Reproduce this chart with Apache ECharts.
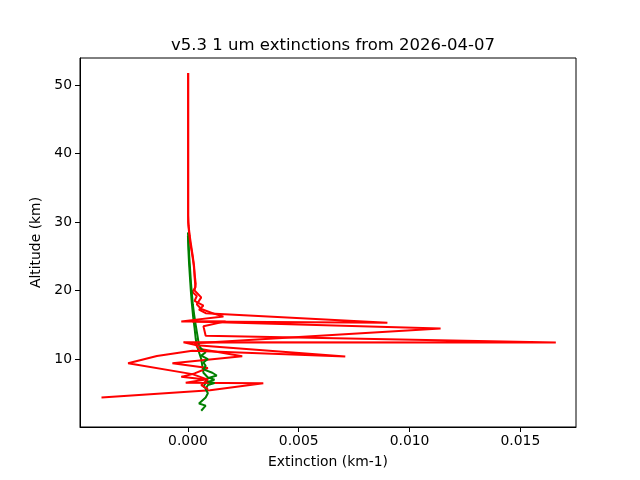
<!DOCTYPE html>
<html>
<head>
<meta charset="utf-8">
<script src="https://cdn.jsdelivr.net/npm/echarts@6/dist/echarts.min.js"></script>
<style>html,body{margin:0;padding:0;background:#fff}#c{width:640px;height:480px}</style>
</head>
<body>
<div id="c"></div>
<script>
var titleText = 'v5.3 1 um extinctions from 2026-04-07';
var xTicks = [0, 0.005, 0.010, 0.015];
var yTicks = [10, 20, 30, 40, 50];

// [extinction (km-1), altitude (km)]
var redA = [[0.00001,51.75],[0.00001,40],[0.00001,31],[0.00003,29.5],[0.00008,28],[0.00015,26.5],[0.00022,25],[0.00028,23.5],[0.0003,22],[0.00034,20.5],[0.0002,19.8],[0.0004,19.2],[0.0003,18.5],[0.0007,17.8],[0.0005,17.2],[0.0008,16.7],[0.009,15.3],[0.0002,15.5],[0.0114,14.47],[0.0003,12.3],[0.0005,11.5],[0.00245,10.4],[-0.0007,9.4],[0.0009,8.7],[0.0003,7.9],[-0.0003,7.4],[0.0008,7.0],[-0.0001,6.55],[0.0034,6.45],[0.001,5.45],[-0.0039,4.4]];
var redB = [[0.00001,51.75],[0.00001,30],[0.00005,28.5],[0.0001,27],[0.00018,25.5],[0.00025,24],[0.0003,22.5],[0.00035,21],[0.0003,20],[0.0006,19],[0.0004,18],[0.0006,17.3],[0.0012,16.6],[0.0016,16.2],[-0.0003,15.5],[0.0017,15.5],[0.0007,14.8],[0.0008,13.4],[0.0166,12.42],[-0.0002,12.45],[0.0004,12.0],[0.0071,10.37],[0.0002,11.2],[-0.0014,10.45],[-0.0027,9.4],[0.0002,7.8],[0.0009,7.0],[0.0006,6.2],[0.0009,5.6]];
var greenA = [[0,28.5],[0.00003,27],[0.00006,25],[0.0001,23],[0.00014,21],[0.00018,19.5],[0.00022,18],[0.00028,16.5],[0.00035,15],[0.0004,14],[0.00045,13],[0.0005,12],[0.0006,11.5],[0.0008,11],[0.0006,10.5],[0.0009,10],[0.0007,9.5],[0.0008,9],[0.0007,8.5],[0.0011,8],[0.0013,7.6],[0.0009,7.2],[0.0008,6.8],[0.0012,6.5],[0.0009,6.2],[0.0008,5.6],[0.0009,5],[0.0008,4.4],[0.0005,3.5],[0.0008,3.2],[0.0006,2.45]];
var greenB = [[0,28],[0.00002,26],[0.00005,24],[0.00009,22],[0.00013,20],[0.00018,18],[0.00024,16],[0.0003,14.5],[0.00035,13],[0.0004,12],[0.0005,11],[0.0006,10],[0.00065,9],[0.0007,8],[0.0009,7.3],[0.0012,7],[0.0008,6.5],[0.0007,6],[0.0009,5.5]];

var font = 'DejaVu Sans';
function lineSeries(data, color) {
  return {type:'line', data:data, showSymbol:false, symbol:'none', animation:false,
    lineStyle:{color:color, width:2}, itemStyle:{color:color}};
}
var chart = echarts.init(document.getElementById('c'), null, {renderer:'canvas'});
chart.setOption({
  animation:false,
  backgroundColor:'#fff',
  title:{text:titleText, left:328, top:32, textAlign:'center',
    textStyle:{fontFamily:font, fontSize:16.5, fontWeight:'normal', color:'#000'}},
  grid:{left:80, top:58, right:64, bottom:53, show:true, borderColor:'#000', borderWidth:1, backgroundColor:'transparent'},
  xAxis:{type:'value', min:-0.00487, max:0.01751,
    name:'Extinction (km-1)', nameLocation:'middle', nameGap:28,
    nameTextStyle:{fontFamily:font, fontSize:13.9, color:'#000'},
    axisLine:{show:true, onZero:false, lineStyle:{color:'#000', width:1}},
    splitLine:{show:false},
    axisTick:{show:true, length:5, lineStyle:{color:'#000'}, customValues:xTicks},
    axisLabel:{fontFamily:font, fontSize:13.9, color:'#000', margin:7, customValues:xTicks,
      formatter:function(v){return v.toFixed(3);}}},
  yAxis:{type:'value', min:0.08, max:53.95,
    name:'Altitude (km)', nameLocation:'middle', nameGap:33, nameRotate:90,
    nameTextStyle:{fontFamily:font, fontSize:13.9, color:'#000'},
    axisLine:{show:true, onZero:false, lineStyle:{color:'#000', width:1}},
    splitLine:{show:false},
    axisTick:{show:true, length:5, lineStyle:{color:'#000'}, customValues:yTicks},
    axisLabel:{fontFamily:font, fontSize:13.9, color:'#000', margin:8, customValues:yTicks,
      formatter:function(v){return String(v);}}},
  series:[lineSeries(greenB,'#008000'), lineSeries(redA,'#ff0000'), lineSeries(greenA,'#008000'), lineSeries(redB,'#ff0000')]
});
</script>
</body>
</html>
